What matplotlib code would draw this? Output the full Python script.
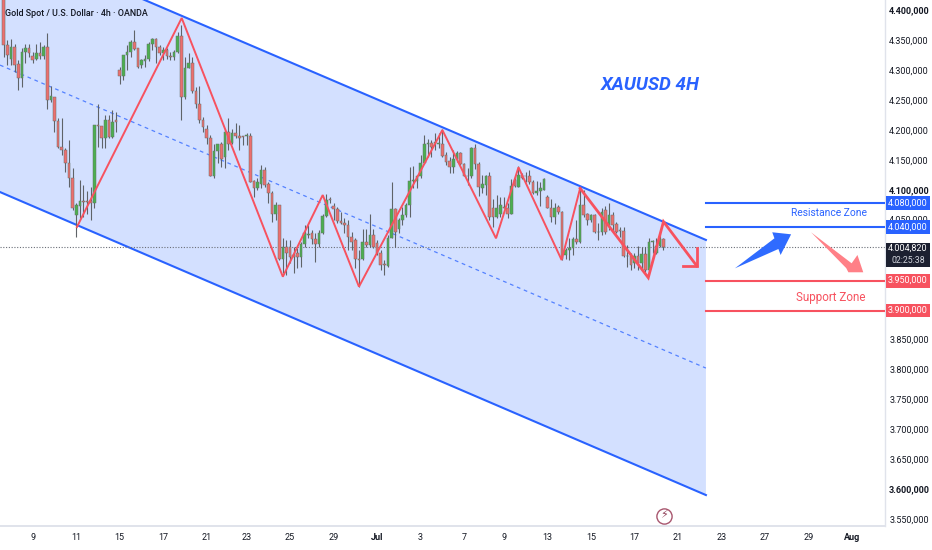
import numpy as np
import matplotlib
matplotlib.use('Agg')
import matplotlib.pyplot as plt
from matplotlib.patches import Rectangle
from matplotlib.transforms import blended_transform_factory

plt.rcParams['font.family'] = ['Roboto', 'DejaVu Sans']

# candles, 4h bars
opens = [4420,4341,4318,4339,4310,4286,4330,4337,4323,4318,4329,4323,4338,4249,4254,4215,4172,4166,4144,4119,
         4058,4072,4081,4081,4081,4078,4208,4206,4186,4216,4188,4216,4299,4290,4325,4330,4346,4336,4308,4315,
         4319,4344,4352,4338,4329,4333,4323,4321,4330,4357,4254,4303,4312,4264,4243,4216,4202,4187,4122,4165,
         4176,4154,4197,4178,4194,4190,4189,4190,4190,4114,4102,4110,4132,4110,4094,4060,4074,3985,4004,4004,
         3991,3994,3987,4009,4025,4027,4018,4009,4027,4056,4085,4073,4067,4048,4045,4041,4021,4016,3984,3984,
         4013,4008,4024,4011,3995,3975,3972,4020,4067,4035,4049,4058,4074,4115,4115,4122,4144,4176,4178,4178,
         4177,4176,4158,4148,4137,4151,4162,4142,4123,4123,4170,4143,4102,4108,4123,4069,4054,4060,4071,4070,
         4060,4116,4104,4124,4123,4123,4112,4094,4097,4100,4087,4070,4055,4071,4063,3991,3999,4002,4017,4013,
         4074,4059,4049,4058,4030,4029,4066,4041,4058,4042,4033,4031,3990,3990,3977,3990,3978,3992,3965,4013,
         3994,4006,4017]
highs = [4425,4350,4351,4344,4317,4336,4344,4344,4330,4344,4347,4342,4361,4273,4254,4219,4219,4169,4183,4136,
         4077,4116,4108,4097,4105,4208,4243,4206,4225,4225,4233,4230,4305,4325,4342,4350,4367,4336,4319,4325,
         4347,4353,4353,4342,4339,4336,4330,4333,4364,4375,4322,4328,4322,4271,4273,4222,4208,4191,4177,4177,
         4180,4202,4219,4202,4212,4208,4190,4194,4195,4116,4119,4141,4138,4113,4097,4080,4074,4019,4016,4016,
         4005,4002,4013,4041,4041,4033,4027,4033,4060,4093,4088,4077,4071,4063,4052,4049,4030,4019,4000,4035,
         4035,4060,4035,4016,4000,3982,4024,4112,4070,4052,4071,4077,4138,4139,4124,4158,4191,4184,4183,4194,
         4194,4201,4163,4154,4166,4164,4163,4144,4136,4172,4177,4147,4124,4124,4130,4084,4091,4088,4087,4077,
         4117,4119,4139,4128,4130,4132,4116,4115,4113,4119,4091,4085,4077,4074,4065,4002,4019,4021,4049,4105,
         4099,4061,4059,4059,4044,4069,4072,4078,4063,4046,4038,4038,4008,3994,3994,4006,4004,4005,4020,4016,
         4019,4027,4019]
lows = [4322,4308,4308,4297,4266,4271,4311,4322,4311,4316,4319,4319,4234,4247,4197,4169,4158,4130,4105,4066,
        4021,4052,4055,4060,4050,4070,4172,4169,4169,4186,4186,4197,4277,4283,4300,4322,4333,4303,4303,4305,
        4314,4333,4311,4325,4316,4319,4316,4316,4328,4217,4252,4303,4261,4237,4211,4197,4177,4122,4119,4144,
        4138,4136,4166,4176,4186,4166,4174,4174,4112,4088,4099,4102,4104,4077,4046,4049,3982,3960,3957,3977,
        3960,3969,3971,4005,4019,4010,3980,4005,4026,4055,4077,4049,4044,4043,4027,4000,4000,3969,3938,3982,
        4005,4005,4002,3991,3966,3957,3971,4020,4005,4027,4041,4055,4055,4102,4102,4119,4143,4155,4155,4166,
        4169,4154,4141,4128,4127,4147,4141,4122,4108,4119,4134,4089,4094,4091,4049,4038,4052,4055,4069,4052,
        4060,4105,4104,4117,4113,4110,4093,4091,4072,4099,4069,4046,4043,4060,3982,3985,3982,3991,4010,4011,
        4055,4041,4046,4028,4016,4024,4026,4033,4030,4028,4021,3988,3971,3966,3969,3966,3966,3963,3963,3994,
        3992,4004,4000]
closes = [4341,4325,4339,4308,4286,4330,4337,4328,4316,4329,4323,4338,4250,4256,4215,4172,4166,4144,4119,4069,
          4074,4081,4080,4079,4078,4208,4206,4186,4216,4188,4213,4213,4290,4325,4330,4346,4335,4305,4316,4319,
          4344,4352,4338,4328,4333,4323,4321,4330,4357,4254,4303,4312,4264,4243,4216,4205,4187,4123,4165,4176,
          4152,4197,4177,4194,4190,4187,4188,4191,4113,4102,4112,4132,4108,4094,4060,4074,3985,4004,3995,3988,
          3988,3987,4009,4027,4026,4018,4009,4027,4056,4083,4083,4067,4048,4045,4041,4021,4013,3984,3983,4013,
          4008,4024,4005,3994,3974,3974,4020,4067,4030,4049,4058,4074,4115,4116,4122,4144,4176,4178,4172,4179,
          4178,4156,4147,4137,4151,4162,4142,4123,4122,4170,4143,4104,4109,4123,4054,4054,4069,4074,4070,4060,
          4106,4106,4124,4119,4122,4112,4094,4098,4102,4117,4070,4055,4070,4063,3985,3999,4002,4017,4013,4074,
          4058,4050,4058,4030,4029,4063,4030,4058,4041,4030,4031,3990,3989,3974,3990,3978,3992,3966,4012,4014,
          4006,4017,4004.82]

# axis ticks (4.000, 3.950 and 3.900 sit behind the price tags)
price_ticks = [4400,4350,4300,4250,4200,4150,4100,4050,3850,3800,3750,3700,3650,3600,3550]
price_labels = ['4.400,000','4.350,000','4.300,000','4.250,000','4.200,000','4.150,000','4.100,000','4.050,000',
                '3.850,000','3.800,000','3.750,000','3.700,000','3.650,000','3.600,000','3.550,000']
bold_prices = ['4.400,000', '4.100,000', '3.600,000']
date_ticks = [8,20,32,44,56,67,79,91,103,115,127,138,150,162,174,186,198,210,222,234]
date_labels = ['9','11','15','17','21','23','25','29','Jul','3','7','9','13','15','17','21','23','27','29','Aug']

# channel
channel_x = [-1.02, 193.7]
channel_upper = [4520, 4016]
channel_mid = [4308, 3802]
channel_lower = [4096, 3590]

# red swing lines
swing_x = [20.2,49.1,77,88,98,121,135.8,142,153.9,159]
swing_y = [4037.6,4386.6,3954.6,4091,3938,4199.6,4018.7,4137.3,3982.5,4102.2]
swing2_x = [159,177.8,182,191.2]
swing2_y = [4102.2,3953,4046.5,3972.5]
head_x = [187.3,191.2,191.2]
head_y = [3972.5,3972.5,4002.6]

# zones
zone_start = 193.7
res_levels = [4078, 4038]
res_labels = ['4.080,000', '4.040,000']
sup_levels = [3948, 3898]
sup_labels = ['3.950,000', '3.900,000']
last_line = 4003.5

blue_arrow_x = [201.7,212.6,212,217.2,214.3,213.7]
blue_arrow_y = [3968.6,4018.7,4028.8,4025.4,3990.9,4000.9]
red_arrow_x = [222.7,233.9,235.5,237.1,233,232.4]
red_arrow_y = [4028.8,3977,3990.9,3962,3962,3969]

BLUE = '#2962ff'
RED = '#f7525f'
GREEN_BODY = '#4caf50'
RED_BODY = '#ec6f6f'
WICK = '#5f6368'
LABEL_SIZE = 6.5

fig = plt.figure(figsize=(9.32, 5.5), dpi=100)
ax = fig.add_axes([0, 24 / 550, 885 / 932, 526 / 550])
ax.set_xlim(-1.02, 243.1)
ax.set_ylim(3538.3, 4416.7)

ax.fill_between(channel_x, channel_lower, channel_upper, color='#d3e0ff', lw=0, zorder=1)
ax.plot(channel_x, channel_upper, color=BLUE, lw=1.5, zorder=2)
ax.plot(channel_x, channel_lower, color=BLUE, lw=1.5, zorder=2)
ax.plot(channel_x, channel_mid, color=BLUE, lw=0.9, ls=(0, (3, 3)), alpha=0.75, zorder=2)
ax.axhline(last_line, color='#6b6f78', lw=0.8, ls=(0, (1, 1.5)), zorder=2)

x = np.arange(len(opens))
o = np.array(opens)
c = np.array(closes)
up = c >= o
ax.vlines(x, lows, highs, color=WICK, lw=0.8, zorder=3)
ax.bar(x, np.maximum(np.abs(c - o), 0.8), bottom=np.minimum(o, c), width=0.72,
       color=np.where(up, GREEN_BODY, RED_BODY), edgecolor='#66706a', linewidth=0.35, zorder=4)

ax.plot(swing_x, swing_y, color=RED, lw=1.4, solid_joinstyle='miter', zorder=5)
ax.plot(swing2_x, swing2_y, color=RED, lw=2.0, solid_joinstyle='miter', zorder=5)
ax.plot(head_x, head_y, color=RED, lw=2.0, solid_joinstyle='miter', zorder=5)

for lv in res_levels:
    ax.plot([zone_start, 243.1], [lv, lv], color=BLUE, lw=1.5, zorder=3)
for lv in sup_levels:
    ax.plot([zone_start, 243.1], [lv, lv], color=RED, lw=1.5, zorder=3)

ax.fill(blue_arrow_x, blue_arrow_y, color='#2f6bff', lw=0, zorder=5)
ax.fill(red_arrow_x, red_arrow_y, color='#ff8087', lw=0, zorder=5)

ax.set_xticks(date_ticks, date_labels)
ax.set_yticks(price_ticks, price_labels)
ax.yaxis.tick_right()
ax.tick_params(axis='both', length=0, labelsize=LABEL_SIZE, labelcolor='#131722')
ax.tick_params(axis='y', pad=3)
ax.tick_params(axis='x', pad=5)
for lab in ax.get_yticklabels():
    if lab.get_text() in bold_prices:
        lab.set_fontweight('bold')
for lab in ax.get_xticklabels():
    if lab.get_text() in ('Jul', 'Aug'):
        lab.set_fontweight('bold')

for side in ['top', 'left']:
    ax.spines[side].set_visible(False)
ax.spines['right'].set_color('#e0e3eb')
ax.spines['bottom'].set_color('#e0e3eb')
ax.spines['right'].set_linewidth(1)
ax.spines['bottom'].set_linewidth(1.4)

ax.text(5 / 885, 1 - 14 / 526, 'Gold Spot / U.S. Dollar · 4h · OANDA', transform=ax.transAxes,
        fontsize=6.4, fontweight='medium', color='#131722', va='center', zorder=9)
ax.text(650 / 885, 1 - 85 / 526, 'XAUUSD 4H', transform=ax.transAxes, ha='center', va='center',
        fontsize=13.5, style='italic', fontweight='bold', color='#2962ff', zorder=9)
ax.text(829 / 885, 1 - 213 / 526, 'Resistance Zone', transform=ax.transAxes, ha='center', va='center',
        fontsize=7.4, color='#2962ff', zorder=9)
ax.text(831 / 885, 1 - 297 / 526, 'Support Zone', transform=ax.transAxes, ha='center', va='center',
        fontsize=8.4, color=RED, zorder=9)

# price tags on the right scale
tr = blended_transform_factory(ax.transAxes, ax.transData)
def tag(price, text, color):
    ax.add_patch(Rectangle((1.0015, price - 11.5), 44 / 885, 23, transform=tr, facecolor=color, edgecolor='none',
                           clip_on=False, zorder=8))
    ax.text(908 / 885, price, text, transform=tr, ha='center', va='center', fontsize=LABEL_SIZE, color='white',
            clip_on=False, zorder=9)

for lv, txt in zip(res_levels, res_labels):
    tag(lv, txt, BLUE)
for lv, txt in zip(sup_levels, sup_labels):
    tag(lv, txt, RED)

ax.add_patch(Rectangle((1.0015, 3970), 44 / 885, 41, transform=tr, facecolor='#1c2030', edgecolor='none',
                       clip_on=False, zorder=8))
ax.text(908 / 885, 4002, '4.004,820', transform=tr, ha='center', va='center', fontsize=LABEL_SIZE, color='white',
        clip_on=False, zorder=9)
ax.text(908 / 885, 3982, '02:25:38', transform=tr, ha='center', va='center', fontsize=6.3, color='#d1d4dc',
        clip_on=False, zorder=9)

# the little event icon near the bottom
ax.scatter([182.1], [3555.8], s=120, facecolor='white', edgecolor='#a8566e', linewidth=1.0, zorder=6)
ax.text(182.1, 3555.8, '\u26a1', fontsize=8, ha='center', va='center', color='#8f4058', family=['DejaVu Sans'], zorder=7)

fig.savefig('out.png', dpi=100)
